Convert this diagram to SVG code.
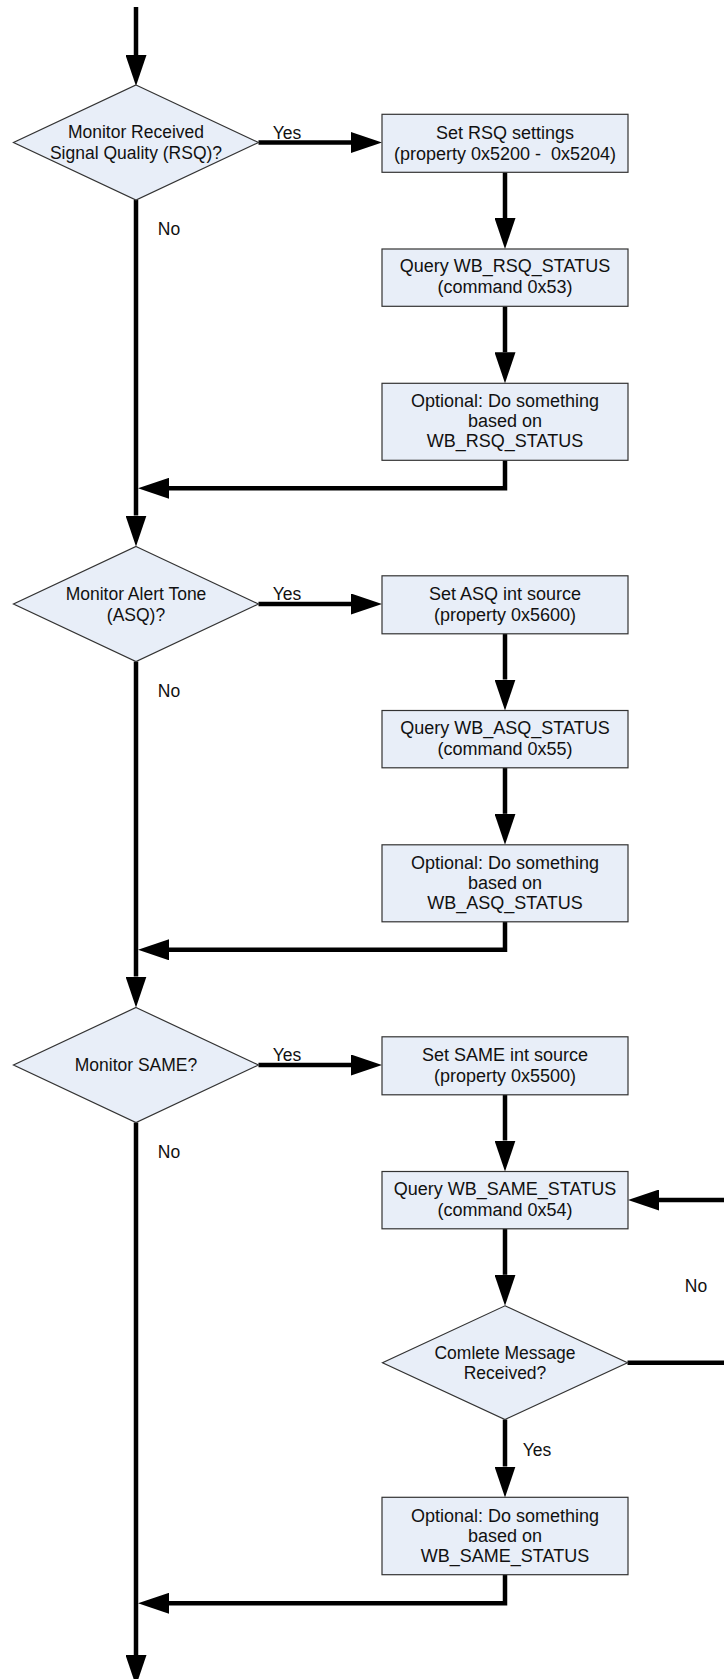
<svg xmlns="http://www.w3.org/2000/svg" width="724" height="1679" viewBox="0 0 724 1679">
<style>
.n{fill:#E8EEF8;stroke:#333;stroke-width:1.2}
.t{font-family:"Liberation Sans",Arial,sans-serif;font-size:17.5px;fill:#111;text-anchor:middle}
.b{font-size:18px}
.c{fill:none;stroke:#000;stroke-width:4.5}
</style>
<defs>
<marker id="ah" markerUnits="userSpaceOnUse" markerWidth="31" markerHeight="21" refX="0" refY="10.5" orient="auto">
<path d="M0,0 L31,10.5 L0,21 z" fill="#000"/>
</marker>
</defs>
<rect width="724" height="1679" fill="#fff"/>
<g id="connectors">
<path class="c" d="M136,7 V55" marker-end="url(#ah)"/>
<path class="c" d="M258.5,142.5 H351" marker-end="url(#ah)"/>
<path class="c" d="M505,172.3 V218" marker-end="url(#ah)"/>
<path class="c" d="M505,306.3 V352.3" marker-end="url(#ah)"/>
<path class="c" d="M505,460.3 V488.3 H169" marker-end="url(#ah)"/>
<path class="c" d="M136,200 V515.5" marker-end="url(#ah)"/>
<path class="c" d="M258.5,604 H351" marker-end="url(#ah)"/>
<path class="c" d="M505,633.8 V679.5" marker-end="url(#ah)"/>
<path class="c" d="M505,767.8 V813.8" marker-end="url(#ah)"/>
<path class="c" d="M505,921.8 V949.8 H169" marker-end="url(#ah)"/>
<path class="c" d="M136,661.5 V976.5" marker-end="url(#ah)"/>
<path class="c" d="M258.5,1065 H351" marker-end="url(#ah)"/>
<path class="c" d="M505,1094.8 V1140.5" marker-end="url(#ah)"/>
<path class="c" d="M505,1228.8 V1274.8" marker-end="url(#ah)"/>
<path class="c" d="M627.5,1362.7 H726"/>
<path class="c" d="M726,1200 H659" marker-end="url(#ah)"/>
<path class="c" d="M505,1419.5 V1466.5" marker-end="url(#ah)"/>
<path class="c" d="M505,1574.8 V1603.3 H169" marker-end="url(#ah)"/>
<path class="c" d="M136,1122.5 V1655" marker-end="url(#ah)"/>
<text class="t" x="287" y="139">Yes</text>
<text class="t" x="169" y="235">No</text>
<text class="t" x="287" y="600">Yes</text>
<text class="t" x="169" y="696.5">No</text>
<text class="t" x="287" y="1061">Yes</text>
<text class="t" x="169" y="1157.5">No</text>
<text class="t" x="696" y="1292">No</text>
<text class="t" x="537" y="1455.5">Yes</text>
</g>
<g id="d1">
<polygon class="n" points="136,85 258.5,142.5 136,200 13.5,142.5"/>
<text class="t" x="136" y="138">Monitor Received</text>
<text class="t" x="136" y="159">Signal Quality (RSQ)?</text>
</g>
<g id="b1">
<rect class="n" x="382" y="114.3" width="246" height="58"/>
<text class="t b" x="505" y="139">Set RSQ settings</text>
<text class="t b" x="505" y="159.5" xml:space="preserve" style="white-space:pre">(property 0x5200 -  0x5204)</text>
</g>
<g id="b2">
<rect class="n" x="382" y="249" width="246" height="57.3"/>
<text class="t b" x="505" y="272">Query WB_RSQ_STATUS</text>
<text class="t b" x="505" y="293">(command 0x53)</text>
</g>
<g id="b3">
<rect class="n" x="382" y="383.3" width="246" height="77"/>
<text class="t b" x="505" y="407">Optional: Do something</text>
<text class="t b" x="505" y="427">based on</text>
<text class="t b" x="505" y="447">WB_RSQ_STATUS</text>
</g>
<g id="d2">
<polygon class="n" points="136,546.5 258.5,604 136,661.5 13.5,604"/>
<text class="t" x="136" y="599.5">Monitor Alert Tone</text>
<text class="t" x="136" y="620.5">(ASQ)?</text>
</g>
<g id="b4">
<rect class="n" x="382" y="575.8" width="246" height="58"/>
<text class="t b" x="505" y="600">Set ASQ int source</text>
<text class="t b" x="505" y="621">(property 0x5600)</text>
</g>
<g id="b5">
<rect class="n" x="382" y="710.5" width="246" height="57.3"/>
<text class="t b" x="505" y="733.5">Query WB_ASQ_STATUS</text>
<text class="t b" x="505" y="754.5">(command 0x55)</text>
</g>
<g id="b6">
<rect class="n" x="382" y="844.8" width="246" height="77"/>
<text class="t b" x="505" y="868.5">Optional: Do something</text>
<text class="t b" x="505" y="888.5">based on</text>
<text class="t b" x="505" y="908.5">WB_ASQ_STATUS</text>
</g>
<g id="d3">
<polygon class="n" points="136,1007.5 258.5,1065 136,1122.5 13.5,1065"/>
<text class="t" x="136" y="1071">Monitor SAME?</text>
</g>
<g id="b7">
<rect class="n" x="382" y="1036.8" width="246" height="58"/>
<text class="t b" x="505" y="1061">Set SAME int source</text>
<text class="t b" x="505" y="1082">(property 0x5500)</text>
</g>
<g id="b8">
<rect class="n" x="382" y="1171.5" width="246" height="57.3"/>
<text class="t b" x="505" y="1195">Query WB_SAME_STATUS</text>
<text class="t b" x="505" y="1215.5">(command 0x54)</text>
</g>
<g id="d4">
<polygon class="n" points="505,1305.8 627.5,1362.7 505,1419.5 382.5,1362.7"/>
<text class="t" x="505" y="1359">Comlete Message</text>
<text class="t" x="505" y="1378.5">Received?</text>
</g>
<g id="b9">
<rect class="n" x="382" y="1497.3" width="246" height="77.4"/>
<text class="t b" x="505" y="1522">Optional: Do something</text>
<text class="t b" x="505" y="1542">based on</text>
<text class="t b" x="505" y="1562">WB_SAME_STATUS</text>
</g>
</svg>
